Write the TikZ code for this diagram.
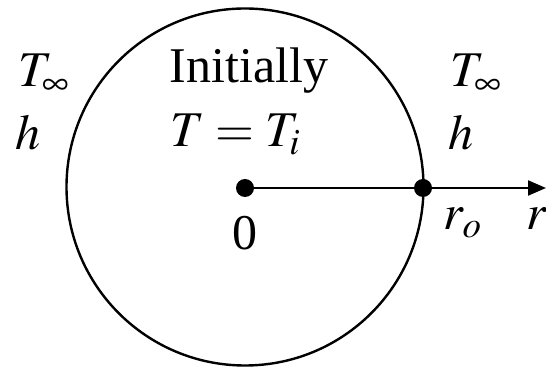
\documentclass[tikz,border=0pt]{standalone}
\usepackage{mathptmx}
\usepackage{fontspec}
\setmainfont{Liberation Serif}
\usetikzlibrary{arrows.meta}

\begin{document}
\begin{tikzpicture}[
  x=1pt, y=1pt,
  every node/.style={inner sep=0pt, font=\fontsize{50}{60}\selectfont},
  ball/.style={line width=2.4pt},
  axis/.style={line width=2.2pt, -{Triangle[length=18pt,width=15pt]}},
  dot/.style={circle, fill=black, minimum size=18pt},
  lbl/.style={anchor=base west},
  >=Stealth
]
\useasboundingbox (0,0) rectangle (546,369);

\node[circle, draw, ball, minimum size=357pt] (sphere) at (245,182) {};

\node[dot] (center) at (245,181) {};
\node[dot] (surface) at (423,181) {};
\coordinate (rend) at (546,181);

\draw[ball] (center) -- (surface);
\draw[axis] (surface) -- (rend);

\node[anchor=base] (init) at (249,286) {Initially};
\node[lbl] (tinit) at (170,222) {$T = T_i$};

\node[lbl] (tinfl) at (18,282) {$T_\infty$};
\node[lbl] (hl) at (15,219) {$h$};
\node[lbl] (tinfr) at (450,282) {$T_\infty$};
\node[lbl] (hr) at (448,219) {$h$};

\node[anchor=base] (zero) at (244.5,119) {0};
\node[lbl] (ro) at (443,139) {$r_o$};
\node[lbl] (r) at (526,139) {$r$};
\end{tikzpicture}
\end{document}
